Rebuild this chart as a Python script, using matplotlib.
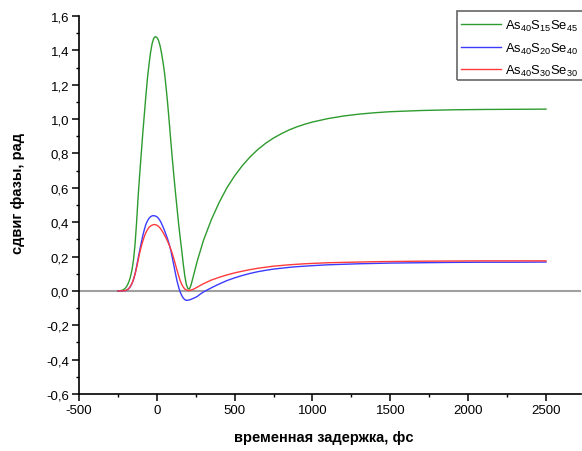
import matplotlib
matplotlib.use("Agg")
import matplotlib.pyplot as plt
from matplotlib.ticker import MultipleLocator, FuncFormatter
from matplotlib.patches import Rectangle

plt.rcParams['font.family'] = ['Liberation Sans', 'DejaVu Sans']
plt.rcParams['mathtext.default'] = 'regular'
plt.rcParams['axes.unicode_minus'] = False

# time delay, fs
delay_fs = [-250, -240, -230, -220, -210, -200, -190, -180, -170, -160,
            -150, -140, -130, -120, -110, -100, -90, -80, -70, -60,
            -50, -40, -30, -20, -10, 0, 10, 20, 30, 40,
            50, 60, 70, 80, 90, 100, 110, 120, 130, 140,
            150, 160, 170, 180, 190, 200, 210, 220, 230, 240,
            250, 260, 270, 280, 290, 300,
            350, 400, 450, 500, 550, 600, 650, 700, 750, 800,
            850, 900, 950, 1000, 1100, 1200, 1300, 1400, 1500, 1700,
            1900, 2100, 2300, 2500]

# phase shift, rad
shift_s15 = [0.000, 0.001, 0.002, 0.005, 0.010, 0.018, 0.032, 0.052, 0.080, 0.120,
             0.180, 0.27, 0.40, 0.55, 0.68, 0.80, 0.92, 1.03, 1.14, 1.24,
             1.32, 1.39, 1.44, 1.47, 1.48, 1.475, 1.46, 1.43, 1.385, 1.33,
             1.265, 1.18, 1.085, 0.98, 0.87, 0.765, 0.665, 0.57, 0.48, 0.39,
             0.31, 0.235, 0.155, 0.085, 0.036, 0.013, 0.012, 0.035, 0.07, 0.105,
             0.14, 0.175, 0.205, 0.235, 0.265, 0.295,
             0.414, 0.514, 0.600, 0.670, 0.730, 0.781, 0.824, 0.860, 0.890, 0.915,
             0.937, 0.955, 0.970, 0.983, 1.003, 1.018, 1.029, 1.037, 1.043, 1.050,
             1.054, 1.056, 1.057, 1.058]

shift_s20 = [0.0, 0.0, 0.0, 0.001, 0.001, 0.002, 0.006, 0.013, 0.025, 0.042,
             0.066, 0.098, 0.142, 0.19, 0.235, 0.28, 0.322, 0.358, 0.388, 0.408,
             0.423, 0.432, 0.437, 0.438, 0.436, 0.432, 0.423, 0.41, 0.393, 0.372,
             0.35, 0.325, 0.30, 0.27, 0.235, 0.19, 0.145, 0.10, 0.057, 0.022,
             -0.006, -0.027, -0.042, -0.051, -0.055, -0.054, -0.052, -0.049, -0.045, -0.041,
             -0.037, -0.032, -0.025, -0.018, -0.012, -0.006,
             0.018, 0.040, 0.060, 0.076, 0.090, 0.102, 0.112, 0.120, 0.127, 0.132,
             0.137, 0.141, 0.144, 0.147, 0.152, 0.155, 0.158, 0.160, 0.162, 0.164,
             0.166, 0.167, 0.167, 0.168]

shift_s30 = [0.0, 0.0, 0.0, 0.0, 0.001, 0.003, 0.007, 0.014, 0.026, 0.043,
             0.067, 0.097, 0.135, 0.178, 0.222, 0.258, 0.29, 0.318, 0.34, 0.357,
             0.37, 0.378, 0.383, 0.386, 0.386, 0.382, 0.376, 0.367, 0.354, 0.34,
             0.323, 0.306, 0.287, 0.266, 0.242, 0.215, 0.185, 0.152, 0.12, 0.089,
             0.06, 0.038, 0.022, 0.011, 0.005, 0.003, 0.003, 0.005, 0.008, 0.012,
             0.017, 0.022, 0.027, 0.032, 0.037, 0.042,
             0.063, 0.079, 0.093, 0.105, 0.115, 0.124, 0.132, 0.138, 0.144, 0.148,
             0.152, 0.155, 0.158, 0.160, 0.164, 0.166, 0.168, 0.170, 0.171, 0.173,
             0.174, 0.175, 0.175, 0.175]

labels = [r'As$_{40}$S$_{15}$Se$_{45}$',
          r'As$_{40}$S$_{20}$Se$_{40}$',
          r'As$_{40}$S$_{30}$Se$_{30}$']
colors = ['#2e9b2e', '#3b3bff', '#ff3b3b']

W, H = 582, 452
fig = plt.figure(figsize=(W / 100, H / 100), dpi=100)
ax = fig.add_axes([79 / W, (H - 395) / H, (581 - 79) / W, (395 - 17) / H])

ax.axhline(0, color='#a0a0a0', lw=1.5, zorder=1)
lines = []
for y, c, lab in zip([shift_s15, shift_s20, shift_s30], colors, labels):
    ln, = ax.plot(delay_fs, y, color=c, lw=1.0, label=lab, zorder=2)
    lines.append(ln)

ax.set_xlim(-500, 2725)
ax.set_ylim(-0.6, 1.6)

for side in ('top', 'right'):
    ax.spines[side].set_visible(False)
for side in ('left', 'bottom'):
    ax.spines[side].set_linewidth(1.2)

ax.xaxis.set_major_locator(MultipleLocator(500))
ax.xaxis.set_minor_locator(MultipleLocator(250))
ax.yaxis.set_major_locator(MultipleLocator(0.2))
ax.yaxis.set_minor_locator(MultipleLocator(0.1))
ax.yaxis.set_major_formatter(FuncFormatter(
    lambda v, p: f"{v:.1f}".replace('.', ',').replace('-0,0', '0,0')))
ax.tick_params(which='major', direction='out', length=5, width=1.1,
               labelsize=9.5, pad=2)
ax.tick_params(which='minor', direction='out', length=2.5, width=1.0)

fig.text(18.5 / W, 1 - 194 / H, 'сдвиг фазы, рад', rotation=90,
         ha='center', va='center', fontsize=10.5, fontweight='bold')
fig.text(324 / W, 1 - 438 / H, 'временная задержка, фс',
         ha='center', va='center', fontsize=10.5, fontweight='bold')

fig.add_artist(Rectangle((457 / W, 1 - 81 / H), 200 / W, 69 / H,
                         transform=fig.transFigure, fill=False,
                         edgecolor='#666666', lw=1.2))
fig.legend(handles=lines, loc='upper left',
           bbox_to_anchor=(461 / W, 1 - 19 / H), frameon=False,
           fontsize=9.4, handlelength=3.1, handletextpad=0.3,
           borderpad=0, borderaxespad=0, labelspacing=0.56)

fig.savefig('out.png', dpi=100)
